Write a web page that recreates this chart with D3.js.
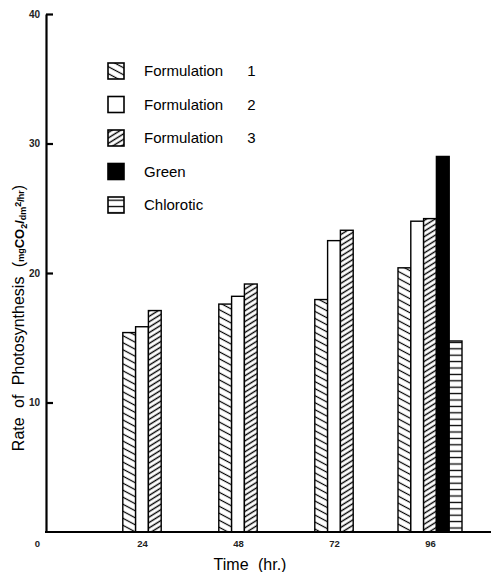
<!DOCTYPE html>
<html>
<head>
<meta charset="utf-8">
<script src="https://cdn.jsdelivr.net/npm/d3@7"></script>
<style>
  body { margin: 0; background: #fff; }
  svg { font-family: "Liberation Sans", Arial, sans-serif; }
</style>
</head>
<body>
<svg width="491" height="572"></svg>
<script>
window.onload = () => {

  const times = [24, 48, 72, 96];
  const seriesNames = ['Formulation 1', 'Formulation 2', 'Formulation 3', 'Green', 'Chlorotic'];
  const f1 = [15.4, 17.6, 17.95, 20.4];
  const f2 = [15.85, 18.2, 22.5, 24.0];
  const f3 = [17.1, 19.15, 23.3, 24.2];
  const green = [null, null, null, 29.0];
  const chlorotic = [null, null, null, 14.75];
  const yTicks = [10, 20, 30, 40];
  const xTicks = [0, 24, 48, 72, 96];

  const series = [f1, f2, f3, green, chlorotic];
  const fills = ['url(#f1)', '#fff', 'url(#f3)', '#000', 'url(#chl)'];

  const svg = d3.select('svg');
  const defs = svg.append('defs');

  // hatch patterns
  const hatch = (id, spacing, angle, sw) => {
    const p = defs.append('pattern')
      .attr('id', id)
      .attr('patternUnits', 'userSpaceOnUse')
      .attr('width', 20).attr('height', spacing)
      .attr('patternTransform', 'rotate(' + angle + ')');
    p.append('rect').attr('width', 20).attr('height', spacing).attr('fill', '#fff');
    p.append('line').attr('x1', 0).attr('x2', 20)
      .attr('y1', spacing / 2).attr('y2', spacing / 2)
      .attr('stroke', '#000').attr('stroke-width', sw);
  };
  hatch('f1', 6.2, 28, 1.2);
  hatch('f3', 4.6, -32, 1.4);
  hatch('chl', 6.4, 0, 1.3);

  const x = d3.scaleLinear().domain([0, 96]).range([46, 430]);
  const y = d3.scaleLinear().domain([0, 40]).range([532, 14]);
  const bw = 12.8;

  // bars
  times.forEach((t, i) => {
    const present = series.map((s, k) => ({k: k, v: s[i]})).filter(d => d.v != null);
    const x0 = x(t) - present.length * bw / 2;
    svg.append('g').selectAll('rect')
      .data(present)
      .enter()
      .append('rect')
      .attr('x', (d, j) => x0 + j * bw)
      .attr('y', d => y(d.v))
      .attr('width', bw)
      .attr('height', d => y(0) - y(d.v))
      .attr('fill', d => fills[d.k])
      .attr('stroke', '#000')
      .attr('stroke-width', 1.4);
  });

  // y axis
  const yAxis = svg.append('g')
    .attr('transform', 'translate(46,0)')
    .call(d3.axisLeft(y).tickValues(yTicks).tickSize(-7).tickSizeOuter(0).tickPadding(6));
  yAxis.select('.domain').attr('stroke-width', 2.2);
  yAxis.selectAll('.tick line').attr('stroke-width', 2.2);
  yAxis.selectAll('text').attr('font-size', 10).attr('font-weight', 'bold').attr('fill', '#222');

  // x axis
  svg.append('line')
    .attr('x1', 45).attr('x2', 491)
    .attr('y1', y(0)).attr('y2', y(0))
    .attr('stroke', '#000').attr('stroke-width', 1.8);
  const xAxis = svg.append('g')
    .attr('transform', 'translate(0,' + y(0) + ')')
    .call(d3.axisBottom(x).tickValues(xTicks).tickSize(0).tickPadding(8));
  xAxis.select('.domain').remove();
  xAxis.selectAll('text').attr('font-size', 9.5).attr('font-weight', 'bold').attr('fill', '#222')
    .attr('dx', d => d === 0 ? -9 : 0);

  // axis titles
  svg.append('text')
    .attr('x', 250).attr('y', 570)
    .attr('text-anchor', 'middle')
    .attr('font-size', 16)
    .attr('word-spacing', 5)
    .text('Time (hr.)');

  const yt = svg.append('text')
    .attr('transform', 'translate(24,318) rotate(-90)')
    .attr('text-anchor', 'middle')
    .attr('font-size', 16);
  yt.append('tspan').attr('word-spacing', 5).text('Rate of Photosynthesis (');
  yt.append('tspan').attr('font-size', 9).attr('font-weight', 'bold').text('mg');
  yt.append('tspan').attr('font-size', 13).attr('font-weight', 'bold').text('CO');
  yt.append('tspan').attr('font-size', 9).attr('font-weight', 'bold').attr('dy', 3).text('2');
  yt.append('tspan').attr('font-size', 13).attr('font-weight', 'bold').attr('dy', -3).text('/');
  yt.append('tspan').attr('font-size', 9).attr('font-weight', 'bold').attr('dy', 2).text('dm');
  yt.append('tspan').attr('font-size', 9).attr('font-weight', 'bold').attr('dy', -5).text('2');
  yt.append('tspan').attr('font-size', 9).attr('font-weight', 'bold').attr('dy', 3).text('/hr');
  yt.append('tspan').attr('font-size', 16).attr('dy', 0).text(')');

  // legend
  const legend = svg.append('g').attr('transform', 'translate(108,63)');
  const rows = legend.selectAll('g')
    .data(seriesNames)
    .enter()
    .append('g')
    .attr('transform', (d, i) => 'translate(0,' + (i * 33.5) + ')');
  rows.append('rect')
    .attr('width', 16).attr('height', 16)
    .attr('fill', (d, i) => fills[i])
    .attr('stroke', '#000').attr('stroke-width', 1.6);
  rows.append('text')
    .attr('x', 36).attr('y', 8)
    .attr('dy', '0.35em')
    .attr('font-size', 15)
    .attr('word-spacing', 20)
    .text(d => d);
};
</script>
</body>
</html>
